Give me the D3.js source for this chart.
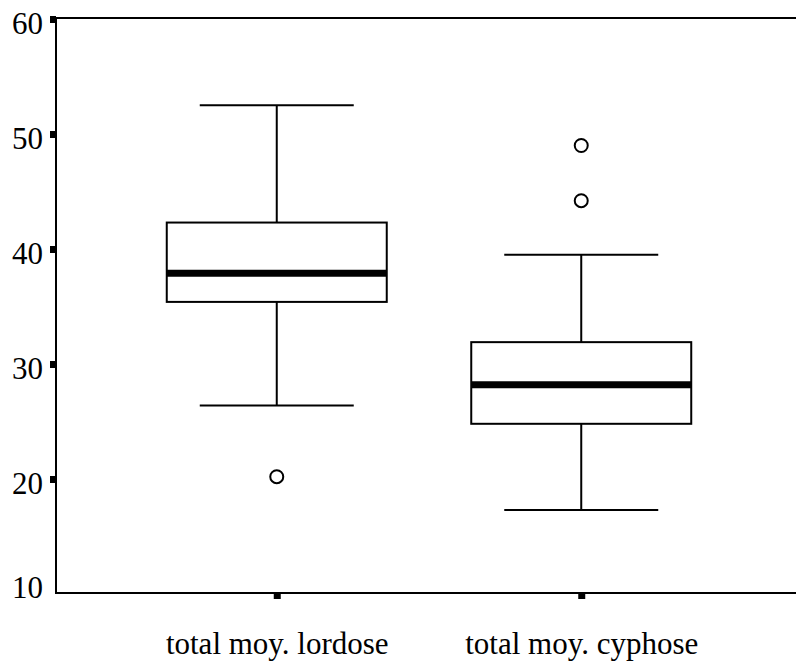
<!DOCTYPE html>
<html>
<head>
<meta charset="utf-8">
<script src="https://cdn.jsdelivr.net/npm/d3@7"></script>
<style>
	html, body { margin: 0; padding: 0; background: white; }
	svg { display: block; }
</style>
</head>
<body>
<div id="chart"></div>
<script>

var categories = ['total moy. lordose', 'total moy. cyphose'];
var whiskerLow = [26.4, 17.3];
var q1 = [35.4, 24.8];
var medians = [37.9, 28.2];
var q3 = [42.3, 31.9];
var whiskerHigh = [52.5, 39.5];
var outliers = [[20.2], [49.0, 44.2]];
var yTicks = [10, 20, 30, 40, 50, 60];

var width = 796;
var height = 662;
var plotLeft = 56;
var plotTop = 19;
var plotBottom = 594;
var font = '"Liberation Serif", "Times New Roman", serif';

var boxes = categories.map(function(c, i) {
	return {cat: c, lo: whiskerLow[i], q1: q1[i], med: medians[i], q3: q3[i], hi: whiskerHigh[i], out: outliers[i]};
});

var svg = d3.select('#chart').append('svg')
	.attr('width', width)
	.attr('height', height);

var x = d3.scalePoint()
	.domain(categories)
	.range([plotLeft, 802])
	.padding(0.725);

var y = d3.scaleLinear()
	.domain([10, 60])
	.range([plotBottom, plotTop]);

var boxWidth = x.step() * 0.7225;
var capWidth = boxWidth * 0.7;

// frame: left, top and bottom lines (right side falls off the picture)
svg.append('path')
	.attr('d', 'M' + width + ',' + (plotTop - 1) + 'H' + plotLeft + 'V' + (plotBottom - 1) + 'H' + width)
	.attr('fill', 'none')
	.attr('stroke', 'black')
	.attr('stroke-width', 2);

// y axis
var yAxis = svg.append('g')
	.attr('transform', 'translate(' + plotLeft + ',0)')
	.call(d3.axisLeft(y).tickValues(yTicks).tickSize(6).tickPadding(7));

yAxis.select('.domain').remove();
yAxis.selectAll('.tick line')
	.attr('stroke', 'black')
	.attr('stroke-width', 7);
yAxis.selectAll('.tick line').filter(function(d) {return d == 10;}).remove();
yAxis.selectAll('.tick text')
	.attr('font-family', font)
	.attr('font-size', 31)
	.attr('fill', 'black')
	.attr('dy', function(d) {return d == 10 ? '3px' : '14px';});

// x axis
var xAxis = svg.append('g')
	.attr('transform', 'translate(0,' + (plotBottom - 1) + ')')
	.call(d3.axisBottom(x).tickSize(6).tickPadding(33));

xAxis.select('.domain').remove();
xAxis.selectAll('.tick line')
	.attr('stroke', 'black')
	.attr('stroke-width', 7);
xAxis.selectAll('.tick text')
	.attr('font-family', font)
	.attr('font-size', 31)
	.attr('fill', 'black');

var g = svg.append('g');

// whiskers
g.selectAll('.whisker').data(boxes).enter().append('path')
	.attr('class', 'whisker')
	.attr('d', function(d) {return 'M' + x(d.cat) + ',' + y(d.hi) + 'V' + y(d.q3) + 'M' + x(d.cat) + ',' + y(d.q1) + 'V' + y(d.lo);})
	.attr('stroke', 'black')
	.attr('stroke-width', 2);

g.selectAll('.cap').data(boxes.flatMap(function(d) {return [{cat: d.cat, v: d.hi}, {cat: d.cat, v: d.lo}];})).enter().append('line')
	.attr('class', 'cap')
	.attr('x1', function(d) {return x(d.cat) - capWidth / 2;})
	.attr('x2', function(d) {return x(d.cat) + capWidth / 2;})
	.attr('y1', function(d) {return y(d.v);})
	.attr('y2', function(d) {return y(d.v);})
	.attr('stroke', 'black')
	.attr('stroke-width', 2);

// boxes
g.selectAll('.box').data(boxes).enter().append('rect')
	.attr('class', 'box')
	.attr('x', function(d) {return x(d.cat) - boxWidth / 2;})
	.attr('y', function(d) {return y(d.q3);})
	.attr('width', boxWidth)
	.attr('height', function(d) {return y(d.q1) - y(d.q3);})
	.attr('fill', 'white')
	.attr('stroke', 'black')
	.attr('stroke-width', 2);

g.selectAll('.median').data(boxes).enter().append('line')
	.attr('class', 'median')
	.attr('x1', function(d) {return x(d.cat) - boxWidth / 2;})
	.attr('x2', function(d) {return x(d.cat) + boxWidth / 2;})
	.attr('y1', function(d) {return y(d.med);})
	.attr('y2', function(d) {return y(d.med);})
	.attr('stroke', 'black')
	.attr('stroke-width', 7);

// outliers
g.selectAll('.outlier').data(boxes.flatMap(function(d) {return d.out.map(function(v) {return {cat: d.cat, v: v};});})).enter().append('circle')
	.attr('class', 'outlier')
	.attr('cx', function(d) {return x(d.cat);})
	.attr('cy', function(d) {return y(d.v);})
	.attr('r', 6.5)
	.attr('fill', 'white')
	.attr('stroke', 'black')
	.attr('stroke-width', 2);

</script>
</body>
</html>
